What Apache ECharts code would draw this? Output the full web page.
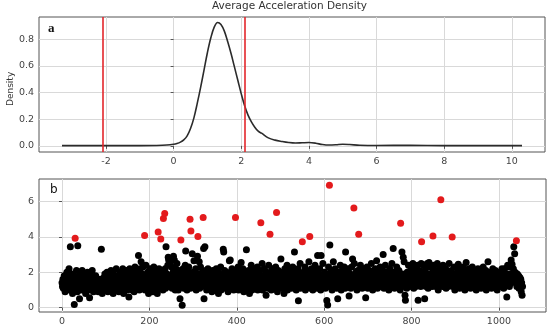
<!DOCTYPE html>
<html><head><meta charset="utf-8">
<script src="https://cdn.jsdelivr.net/npm/echarts@6/dist/echarts.min.js"></script>
<style>html,body{margin:0;padding:0;background:#fff}#c{width:550px;height:330px}</style>
</head><body><div id="c"></div>
<script>
// ---- Panel a: kernel density of average acceleration ----
const densityX = [-3.3,-2,-1,-0.5,-0.2,0,0.1,0.2,0.3,0.4,0.5,0.6,0.7,0.8,0.9,1.0,1.1,1.2,1.3,1.4,1.5,1.6,1.7,1.8,1.9,2.0,2.1,2.2,2.3,2.4,2.5,2.6,2.8,3.0,3.2,3.4,3.6,3.8,4.0,4.2,4.4,4.6,4.8,5.0,5.2,5.5,6.0,7.0,8.0,9.0,10.3];
const densityY = [0.002,0.002,0.002,0.003,0.006,0.012,0.018,0.028,0.045,0.075,0.13,0.21,0.32,0.44,0.57,0.70,0.81,0.89,0.925,0.91,0.86,0.78,0.69,0.59,0.49,0.39,0.30,0.23,0.18,0.14,0.11,0.095,0.06,0.043,0.033,0.025,0.021,0.023,0.025,0.02,0.01,0.006,0.008,0.012,0.01,0.005,0.003,0.004,0.002,0.002,0.002];
const thresholds = [-2.1, 2.1];
const densityTicksX = [-2,0,2,4,6,8,10];
const densityTicksY = [0,0.2,0.4,0.6,0.8];

// ---- Panel b: per-sample values (index = sample number) ----
const accel = [
1.4,1.2,1.6,1.1,1.3,1.8,1.5,0.9,1.4,1.7,1.2,2.0,1.3,1.6,1.1,1.5,2.2,1.0,1.4,3.45,1.7,1.3,1.9,1.2,0.8,
1.5,1.1,1.8,0.17,1.3,3.93,1.6,1.2,2.1,1.4,0.9,3.5,1.7,1.3,1.5,0.5,1.2,1.9,1.4,1.0,1.6,2.1,1.3,1.1,1.7,
1.4,1.2,1.9,1.5,0.8,1.3,1.7,1.1,2.0,1.4,1.6,1.2,1.0,0.55,1.5,1.8,1.3,1.1,1.6,2.1,1.2,1.4,0.9,1.7,1.3,
1.5,1.2,1.8,1.0,1.4,1.3,1.1,1.5,0.9,1.2,1.4,1.0,1.3,1.6,1.1,3.3,1.2,0.8,1.4,1.5,1.0,1.7,1.3,1.9,1.2,
1.6,1.1,1.4,2.0,1.3,0.9,1.7,1.5,1.2,1.8,1.0,1.4,2.1,1.3,1.6,1.1,1.5,0.8,1.9,1.4,1.2,1.7,1.0,1.5,2.2,
1.3,1.6,1.1,1.4,1.8,0.9,1.5,1.2,2.0,1.3,1.7,1.0,1.4,1.6,2.2,1.2,0.8,1.5,1.9,1.1,1.3,1.7,1.4,2.1,1.0,
1.5,1.2,1.8,0.6,1.4,2.2,1.1,1.6,1.3,1.9,1.0,1.5,2.0,1.2,1.7,0.9,1.4,2.3,1.3,1.6,1.1,1.8,1.4,2.1,1.2,
2.95,1.5,1.0,1.7,2.2,1.3,2.6,1.4,1.1,1.9,2.3,1.5,1.2,1.8,4.08,1.0,1.6,2.4,1.3,1.7,1.1,2.0,1.4,0.8,1.6,
1.2,2.2,1.5,1.0,1.8,1.3,2.1,1.6,0.9,1.4,2.3,1.2,1.7,1.1,1.9,1.5,2.0,1.3,0.8,1.6,4.28,1.4,2.2,1.1,1.7,
1.3,3.88,1.5,2.0,1.2,1.8,1.0,5.05,1.4,1.6,5.33,2.2,1.1,3.45,1.5,1.9,1.3,2.4,2.85,2.7,1.2,1.6,2.5,2.6,1.4,
1.8,2.3,1.1,1.5,2.0,2.9,1.3,2.7,1.7,1.0,2.2,1.4,1.9,2.5,1.2,1.6,1.0,2.1,1.3,1.8,0.5,1.5,3.83,2.0,1.2,
0.13,1.7,2.2,1.4,1.1,1.9,1.5,2.4,3.2,1.3,1.8,1.0,2.1,1.6,1.2,2.3,1.4,1.7,5.0,1.1,4.33,1.9,1.5,3.05,1.3,
2.0,1.6,2.65,1.2,1.8,1.4,2.2,1.0,1.7,1.5,2.9,4.03,1.3,1.9,2.6,1.1,1.6,2.3,1.4,1.8,1.2,2.0,1.5,5.1,3.35,
0.5,1.7,3.45,1.3,2.1,1.5,1.0,1.9,1.4,2.2,1.2,1.6,1.8,1.1,2.0,1.5,1.3,1.7,0.9,1.4,2.1,1.6,1.2,1.9,1.0,
1.5,1.8,1.3,2.2,1.1,1.6,1.4,2.0,0.8,1.7,1.2,1.9,1.5,2.3,1.0,1.4,1.8,1.2,1.6,3.3,3.15,1.3,2.1,1.5,1.1,
1.7,1.4,2.0,1.2,1.6,0.9,1.8,1.3,2.65,1.5,2.7,1.1,1.9,1.4,2.2,1.6,1.2,1.7,1.0,1.5,2.1,1.3,5.1,1.8,1.4,
1.2,1.9,1.5,2.3,1.0,1.7,1.3,2.0,1.6,1.1,2.55,1.4,1.8,1.2,2.2,1.5,0.9,1.7,1.3,1.9,2.0,1.4,3.28,1.6,1.1,
1.7,1.3,2.1,1.5,0.8,1.8,1.2,1.6,2.4,1.4,1.0,1.9,1.5,2.2,1.3,1.7,1.1,2.0,1.6,1.2,1.8,1.4,2.3,1.0,1.5,
1.9,1.3,1.6,2.1,1.2,4.8,1.7,1.4,2.5,1.0,1.8,1.5,1.2,2.2,1.6,1.3,1.9,0.7,1.4,2.0,1.1,1.7,1.5,2.4,1.2,
1.6,4.15,1.3,1.9,1.0,1.5,2.2,1.7,1.2,1.4,2.0,1.8,1.1,1.6,2.3,1.3,5.38,1.5,0.9,1.7,2.1,1.4,1.2,1.9,1.6,
1.3,2.75,1.8,1.1,1.5,2.0,1.4,1.7,0.8,1.6,2.2,1.2,1.9,1.5,1.3,2.4,1.0,1.7,1.4,2.1,1.6,1.2,1.8,1.5,2.0,
1.1,1.7,1.4,2.3,1.3,1.6,1.9,3.15,1.2,1.5,2.1,1.0,1.8,1.4,1.6,2.2,0.38,1.3,1.7,1.5,2.5,1.1,1.9,1.4,1.6,
3.73,1.2,2.0,1.5,1.8,1.3,2.3,1.0,1.6,1.4,2.1,1.7,1.2,1.9,1.5,2.6,1.3,4.03,1.8,1.1,1.6,2.2,1.4,1.7,1.0,
1.5,2.0,1.3,1.8,2.4,1.2,1.6,1.4,2.1,1.1,2.95,1.7,1.5,1.9,1.3,2.2,1.6,1.0,2.95,1.4,1.8,1.2,2.5,1.5,1.7,
1.3,2.0,1.6,1.1,1.9,1.4,0.4,1.7,0.15,1.5,2.3,1.2,6.93,3.55,1.8,1.4,2.1,1.6,1.0,1.9,1.3,2.6,1.5,1.7,1.2,
2.2,1.6,1.4,1.9,1.1,1.7,0.5,1.5,2.0,1.3,1.8,1.2,2.4,1.6,1.0,1.5,2.1,1.4,1.7,1.9,1.3,2.3,1.5,1.1,3.15,
1.6,1.3,2.0,1.8,1.2,1.5,2.2,0.66,1.7,1.4,1.9,1.1,1.6,2.3,1.5,2.75,1.3,1.8,5.64,2.5,1.2,1.7,1.4,2.0,1.6,
1.0,1.5,2.1,1.3,4.15,1.8,1.6,1.2,2.4,1.4,1.9,1.7,1.1,2.2,1.5,1.3,1.8,1.6,2.0,1.2,0.55,1.4,1.7,2.3,1.5,
1.1,1.9,1.6,1.3,2.1,1.4,1.8,1.2,2.5,1.5,1.7,1.0,2.0,1.6,1.3,1.9,1.4,2.2,1.2,1.7,2.65,1.5,1.1,1.8,1.4,
2.0,1.6,1.3,2.3,1.7,1.2,1.5,1.9,1.4,2.1,3.0,1.6,1.1,1.8,1.5,2.4,1.3,1.7,1.2,2.0,1.6,1.4,1.9,1.0,1.5,
2.2,1.7,1.3,1.8,1.5,2.5,1.2,1.6,3.35,1.4,2.0,1.1,1.7,1.9,1.5,1.3,2.3,1.6,1.2,1.8,1.4,2.1,1.5,1.7,1.0,
4.77,1.6,1.3,3.15,1.9,1.4,2.85,1.7,2.6,1.2,0.7,0.42,1.5,1.8,1.1,2.0,1.6,1.3,2.4,1.5,1.7,1.2,1.9,1.4,2.2,
1.5,1.8,1.3,2.5,1.6,1.1,2.0,1.4,1.7,2.3,1.2,1.9,1.5,1.6,2.4,0.42,1.3,1.8,2.1,1.4,1.7,1.2,2.5,3.73,1.5,
2.0,1.6,1.3,2.4,1.8,0.5,1.5,2.2,1.2,1.7,1.4,2.5,1.6,1.1,1.9,2.55,1.3,1.8,1.5,2.3,1.4,1.7,1.2,2.0,4.05,
1.6,2.4,1.3,1.8,1.5,2.1,1.2,1.7,1.4,2.5,1.6,1.0,1.9,1.5,2.2,1.3,1.8,6.1,1.4,2.0,1.6,1.2,2.4,1.5,1.7,
1.3,1.9,1.5,2.2,1.1,1.6,1.8,1.4,2.0,1.2,1.7,2.5,1.5,1.3,1.9,1.6,2.1,1.4,4.0,1.7,1.2,1.8,1.5,2.3,1.0,
1.6,1.4,1.9,1.2,1.7,2.2,1.5,2.45,1.3,1.8,1.1,1.6,2.0,1.4,1.7,1.2,1.9,1.5,2.3,1.3,1.6,1.8,1.0,1.5,2.1,
2.55,1.4,1.7,1.2,1.9,1.5,2.2,1.3,1.6,1.8,1.1,1.7,1.4,2.0,2.3,1.5,1.2,1.8,1.6,1.3,2.1,1.4,1.7,1.0,1.9,
1.5,1.3,2.2,1.6,1.8,1.2,1.7,1.4,2.0,1.1,1.6,1.9,1.5,1.3,2.3,1.7,1.2,1.8,1.4,1.6,2.1,1.0,1.5,1.9,1.3,
2.6,1.6,1.4,1.8,1.2,2.0,1.5,1.7,1.1,1.9,1.4,2.2,1.6,1.3,1.8,1.5,1.2,2.1,1.7,1.4,1.6,1.0,1.9,1.5,1.3,
1.8,1.4,2.0,1.6,1.2,1.7,1.5,2.2,1.3,1.9,1.6,1.1,1.8,2.2,1.4,1.7,1.5,1.5,0.6,1.9,2.4,1.3,1.6,1.8,1.2,
2.3,1.5,1.9,2.7,1.4,2.45,1.7,1.6,2.2,3.45,1.8,3.05,2.0,1.5,1.7,3.78,1.2,1.9,1.6,1.4,1.8,1.1,1.5,1.7,1.3,
1.6,0.9,1.4,0.7,1.2
];
const outlierCut = 3.6;
const scatterTicksX = [0,200,400,600,800,1000];
const scatterTicksY = [0,2,4,6];

const normalPts = [], outlierPts = [];
accel.forEach((v, i) => (v > outlierCut ? outlierPts : normalPts).push([i, v]));

const FONT = 'DejaVu Sans';
const tickLabel = { color: '#444', fontSize: 9.5, fontFamily: FONT, margin: 5 };
function axisBase(extra) {
  return Object.assign({
    type: 'value',
    axisLine: { show: false },
    axisTick: { show: true, length: 3, inside: false, lineStyle: { color: '#555' } },
    splitLine: { show: true, lineStyle: { color: '#d9d9d9', width: 1 } }
  }, extra);
}

const chart = echarts.init(document.getElementById('c'), null, { renderer: 'canvas' });
chart.setOption({
  animation: false,
  backgroundColor: '#fff',
  grid: [
    { left: 39, top: 17, width: 506, height: 135, show: true, borderColor: '#555', borderWidth: 1, backgroundColor: 'transparent' },
    { left: 39, top: 179, width: 507, height: 133, show: true, borderColor: '#555', borderWidth: 1, backgroundColor: 'transparent' }
  ],
  xAxis: [
    axisBase({ gridIndex: 0, min: -3.98, max: 10.98,
      axisTick: { show: true, length: 3, lineStyle: { color: '#555' }, customValues: densityTicksX },
      axisLabel: Object.assign({ customValues: densityTicksX }, tickLabel) }),
    axisBase({ gridIndex: 1, min: -52.75, max: 1107.75,
      axisTick: { show: true, length: 3, lineStyle: { color: '#555' }, customValues: scatterTicksX },
      axisLabel: Object.assign({ customValues: scatterTicksX, formatter: v => String(v) }, tickLabel) })
  ],
  yAxis: [
    axisBase({ gridIndex: 0, min: -0.046, max: 0.966,
      axisTick: { show: true, length: 3, lineStyle: { color: '#555' }, customValues: densityTicksY },
      axisLabel: Object.assign({ customValues: densityTicksY, formatter: v => v.toFixed(1) }, tickLabel) }),
    axisBase({ gridIndex: 1, min: -0.25, max: 7.28,
      axisTick: { show: true, length: 3, lineStyle: { color: '#555' }, customValues: scatterTicksY },
      axisLabel: Object.assign({ customValues: scatterTicksY, formatter: v => String(v) }, tickLabel) })
  ],
  series: [
    {
      type: 'line', xAxisIndex: 0, yAxisIndex: 0,
      data: densityX.map((x, i) => [x, densityY[i]]),
      smooth: 0.35, showSymbol: false,
      lineStyle: { color: '#2b2b2b', width: 1.6 },
      markLine: {
        silent: true, symbol: 'none', label: { show: false },
        lineStyle: { color: '#e3262b', width: 1.6, type: 'solid' },
        data: thresholds.map(t => ({ xAxis: t }))
      }
    },
    {
      type: 'scatter', xAxisIndex: 1, yAxisIndex: 1,
      data: normalPts, symbolSize: 7,
      itemStyle: { color: '#000', opacity: 1 }
    },
    {
      type: 'scatter', xAxisIndex: 1, yAxisIndex: 1,
      data: outlierPts, symbolSize: 7,
      itemStyle: { color: '#e31a1c', opacity: 1 }
    }
  ],
  graphic: [
    { type: 'text', left: 292 - 80, top: 1, style: { text: 'Average Acceleration Density', fill: '#333', font: '10.5px "DejaVu Sans"' } },
    { type: 'text', x: 6, y: 106, rotation: Math.PI / 2, style: { text: 'Density', fill: '#333', font: '9px "DejaVu Sans"' } },
    { type: 'text', left: 48, top: 22, style: { text: 'a', fill: '#111', font: 'bold 13px "Liberation Serif"' } },
    { type: 'text', left: 50, top: 184, style: { text: 'b', fill: '#111', font: '12px "DejaVu Sans"' } }
  ]
});
</script>
</body></html>
